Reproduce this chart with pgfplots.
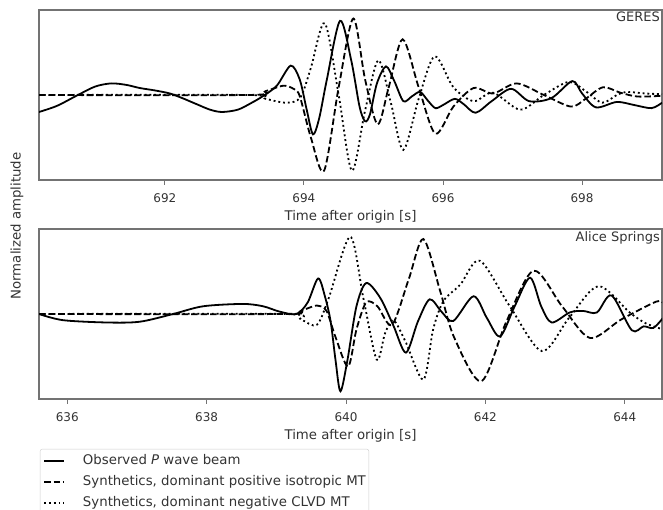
\documentclass[border=0pt]{standalone}
\usepackage{pgfplots}
\pgfplotsset{compat=1.18}
\usepackage{fontspec}
\setmainfont{DejaVu Sans}

\pgfplotsset{mystyle/.style={
  scale only axis, width=623pt, height=170pt,
  ymin=-1.1, ymax=1.1, ytick=\empty,
  axis line style={black!55, line width=1.1pt},
  tick style={black!55, line width=0.9pt},
  major tick length=5pt,
  tick align=outside,
  xtick pos=left,
  /pgf/number format/assume math mode=true,
  /pgf/number format/1000 sep={},
  ticklabel style={font=\fontsize{12}{14}\selectfont, text=black!80},
  xticklabel style={yshift=-5pt},
  label style={font=\fontsize{13.3}{16}\selectfont, text=black!80},
  xlabel style={at={(axis description cs:0.5,-0.215)}, anchor=center},
  every axis plot/.append style={line width=1.8pt, black, smooth, tension=0.5},
  obs/.style={solid},
  iso/.style={dash pattern=on 6.5pt off 3pt},
  clvd/.style={dash pattern=on 1.9pt off 2.9pt},
}}

\begin{document}
\begin{tikzpicture}
\useasboundingbox (0pt,0pt) rectangle (663pt,510pt);

\begin{axis}[mystyle, at={(39pt,330pt)}, anchor=south west,
  xmin=690.19, xmax=699.15, xtick={692,694,696,698},
  xlabel={Time after origin [s]}]
\addplot[obs] coordinates {
(690.19,-0.22) (690.45,-0.14) (690.75,0.0) (691.0,0.11) (691.23,0.15) (691.45,0.13)
(691.64,0.09) (691.85,0.06) (692.07,0.02) (692.25,-0.04) (692.46,-0.12) (692.65,-0.19)
(692.82,-0.22) (693.05,-0.19) (693.25,-0.10) (693.41,-0.015) (693.61,0.12) (693.81,0.38)
(693.94,0.2) (694.04,-0.19) (694.13,-0.51) (694.22,-0.3) (694.33,0.2) (694.52,0.96)
(694.68,0.45) (694.80,-0.15) (694.88,-0.34) (694.95,-0.25) (695.05,0.15) (695.18,0.37)
(695.30,0.18) (695.43,-0.08) (695.55,-0.02) (695.67,0.04) (695.78,-0.07) (695.89,-0.17)
(696.0,-0.13) (696.17,-0.05) (696.30,-0.12) (696.47,-0.23) (696.7,-0.08) (696.98,0.08)
(697.24,-0.08) (697.56,-0.04) (697.86,0.18) (698.0,0.02) (698.2,-0.16) (698.5,-0.09)
(698.75,-0.13) (699.0,-0.17) (699.15,-0.10)};
\addplot[iso] coordinates {
(690.19,0) (693.2,0.0) (693.45,0.05) (693.70,0.12) (693.85,0.08) (693.94,-0.015)
(694.10,-0.55) (694.29,-0.98) (694.50,0.1) (694.71,0.99) (694.88,0.2) (695.06,-0.38)
(695.22,0.1) (695.42,0.72) (695.65,0.1) (695.89,-0.50) (696.15,-0.15) (696.44,0.09)
(696.72,0.02) (697.06,0.15) (697.45,0.0) (697.84,-0.15) (698.05,-0.05) (698.30,0.10)
(698.55,0.03) (698.8,-0.02) (699.15,-0.01)};
\addplot[clvd] coordinates {
(690.19,0) (693.2,0) (693.45,-0.05) (693.75,-0.10) (693.95,-0.03) (694.1,0.35)
(694.30,0.93) (694.50,0.0) (694.69,-0.98) (694.88,-0.2) (695.07,0.45) (695.25,-0.1)
(695.43,-0.71) (695.65,-0.05) (695.88,0.50) (696.15,0.1) (696.44,-0.08) (696.72,0.03)
(697.11,-0.19) (697.45,0.0) (697.81,0.17) (698.05,0.05) (698.29,-0.10) (698.5,0.0)
(698.64,0.04) (698.9,0.02) (699.15,0.01)};
\node[anchor=north east, inner sep=2pt, font=\fontsize{13}{15}\selectfont, text=black!80] at (rel axis cs:1,1) {GERES};
\end{axis}

\begin{axis}[mystyle, at={(39pt,111pt)}, anchor=south west,
  xmin=635.595, xmax=644.534, xtick={636,638,640,642,644},
  xlabel={Time after origin [s]},
  legend style={at={(axis description cs:0.0016,-0.294)}, anchor=north west,
    draw=black!20, rounded corners=2pt, inner xsep=3pt, inner ysep=1.5pt,
    font=\fontsize{13.3}{16}\selectfont, text=black!80,
    row sep=0pt, column sep=18pt,
    nodes={inner sep=0pt, text height=14pt, text depth=7pt, anchor=west}},
  legend cell align=left,
  legend image code/.code={\draw[#1] (0pt,0pt) -- (20pt,0pt);}]
\addplot[obs] coordinates {
(635.595,0.0) (635.94,-0.08) (636.57,-0.11) (637.04,-0.10) (637.52,0.0) (637.95,0.10)
(638.52,0.13) (638.81,0.10) (639.05,0.03) (639.29,0.0) (639.45,0.15) (639.60,0.46)
(639.70,0.22) (639.78,-0.1) (639.85,-0.6) (639.92,-1.0) (640.02,-0.6) (640.15,0.1)
(640.29,0.40) (640.49,0.21) (640.68,-0.15) (640.86,-0.50) (641.03,-0.1) (641.20,0.19)
(641.37,0.03) (641.54,-0.09) (641.83,0.23) (642.02,-0.05) (642.21,-0.29) (642.42,0.1)
(642.64,0.47) (642.80,0.1) (642.95,-0.11) (643.21,0.02) (643.40,0.04) (643.60,0.02)
(643.81,0.24) (644.10,-0.21) (644.27,-0.16) (644.41,-0.18) (644.55,-0.05)};
\addlegendentry{Observed \textit{P} wave beam}
\addplot[iso] coordinates {
(635.595,0) (639.1,0) (639.35,0.04) (639.58,0.11) (639.72,0.04) (639.85,-0.3)
(640.03,-0.68) (640.15,-0.2) (640.29,0.15) (640.45,0.10) (640.66,-0.14) (640.9,0.45)
(641.11,0.97) (641.35,0.3) (641.55,-0.3) (641.94,-0.87) (642.3,-0.1) (642.69,0.56)
(643.1,0.1) (643.50,-0.31) (643.95,-0.07) (644.45,0.16) (644.55,0.14)};
\addlegendentry{Synthetics, dominant positive isotropic MT}
\addplot[clvd] coordinates {
(635.595,0) (639.1,0) (639.35,-0.07) (639.58,-0.14) (639.75,0.2) (640.06,1.0)
(640.25,0.2) (640.44,-0.59) (640.56,-0.25) (640.68,-0.08) (640.85,-0.35) (641.11,-0.85)
(641.25,-0.2) (641.40,0.17) (641.64,0.38) (641.92,0.69) (642.35,0.1) (642.81,-0.48)
(643.2,-0.05) (643.62,0.36) (644.07,0.02) (644.30,-0.12) (644.55,-0.20)};
\addlegendentry{Synthetics, dominant negative CLVD MT}
\node[anchor=north east, inner sep=2pt, font=\fontsize{13}{15}\selectfont, text=black!80] at (rel axis cs:1,1) {Alice Springs};
\end{axis}

\node[rotate=90, anchor=center, font=\fontsize{13.3}{16}\selectfont, text=black!80] at (17pt,284pt) {Normalized amplitude};
\end{tikzpicture}
\end{document}
